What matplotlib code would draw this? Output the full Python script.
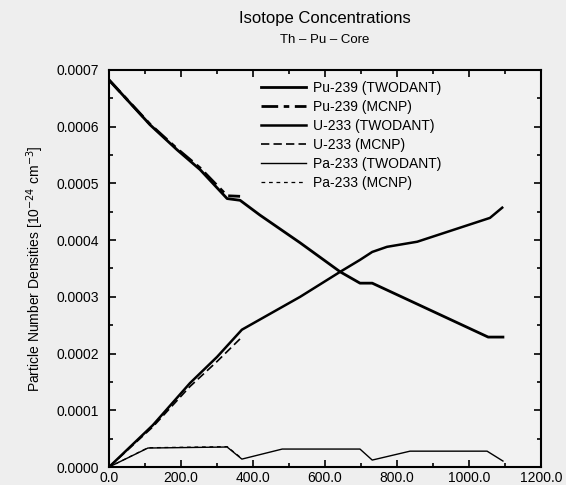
import matplotlib.pyplot as plt
from matplotlib.ticker import MultipleLocator, FormatStrFormatter

plt.rcParams['font.family'] = ['Liberation Sans', 'DejaVu Sans']

# burnup time (days) and number densities
pu_twodant_t = [0, 114, 189, 253, 328, 364, 419, 531, 642, 697, 731, 1053, 1094]
pu_twodant_n = [0.000682, 0.000603, 0.000559, 0.000524, 0.000473, 0.000470, 0.000444,
                0.000395, 0.000344, 0.000324, 0.000324, 0.000229, 0.000229]
pu_mcnp_t = [0, 114, 189, 253, 328, 364]
pu_mcnp_n = [0.000682, 0.000604, 0.000561, 0.000527, 0.000478, 0.000477]

u_twodant_t = [0, 122, 225, 300, 369, 531, 642, 697, 731, 772, 856, 1058, 1092]
u_twodant_n = [0.0, 0.000074, 0.000148, 0.000194, 0.000242, 0.000300, 0.000344,
               0.000365, 0.000379, 0.000388, 0.000397, 0.000439, 0.000457]
u_mcnp_t = [0, 122, 225, 300, 369]
u_mcnp_n = [0.0, 0.000071, 0.000142, 0.000186, 0.000229]

pa_twodant_t = [0, 108, 328, 369, 481, 697, 731, 836, 1050, 1094]
pa_twodant_n = [0.0, 0.0000335, 0.0000353, 0.000014, 0.0000317, 0.0000317,
                0.0000123, 0.000028, 0.000028, 0.0000106]
pa_mcnp_t = [0, 108, 328, 369]
pa_mcnp_n = [0.0, 0.000034, 0.000036, 0.000015]

fig = plt.figure(figsize=(5.66, 4.851), dpi=100)
fig.patch.set_facecolor('#eeeeee')
ax = fig.add_axes([0.1926, 0.037, 0.7634, 0.819])
ax.set_facecolor('#f2f2f2')

ax.plot(pu_twodant_t, pu_twodant_n, color='black', lw=2.0, label='Pu-239 (TWODANT)')
ax.plot(pu_mcnp_t, pu_mcnp_n, color='black', lw=2.0, ls=(0, (6, 2, 2, 2)), label='Pu-239 (MCNP)')
ax.plot(u_twodant_t, u_twodant_n, color='black', lw=1.8, label='U-233 (TWODANT)')
ax.plot(u_mcnp_t, u_mcnp_n, color='black', lw=1.2, ls=(0, (5, 2.5)), label='U-233 (MCNP)')
ax.plot(pa_twodant_t, pa_twodant_n, color='black', lw=1.0, label='Pa-233 (TWODANT)')
ax.plot(pa_mcnp_t, pa_mcnp_n, color='black', lw=0.9, ls=(0, (3, 3)), label='Pa-233 (MCNP)')

ax.set_xlim(0, 1200)
ax.set_ylim(0, 0.0007)
ax.xaxis.set_major_locator(MultipleLocator(200))
ax.xaxis.set_minor_locator(MultipleLocator(100))
ax.yaxis.set_major_locator(MultipleLocator(0.0001))
ax.yaxis.set_minor_locator(MultipleLocator(0.00005))
ax.xaxis.set_major_formatter(FormatStrFormatter('%.1f'))
ax.yaxis.set_major_formatter(FormatStrFormatter('%.4f'))
ax.tick_params(which='both', direction='in', top=True, right=True, labelsize=10, width=1.2)
ax.tick_params(which='major', length=5)
ax.tick_params(axis='y', which='major', pad=7)
ax.tick_params(axis='x', which='major', pad=2.5)
ax.tick_params(which='minor', length=3)
for s in ax.spines.values():
    s.set_linewidth(1.5)

ax.set_ylabel('Particle Number Densities [10$^{-24}$ cm$^{-3}$]', fontsize=10, labelpad=8)

fig.text(0.574, 0.962, 'Isotope Concentrations', ha='center', va='center', fontsize=12)
fig.text(0.574, 0.917, 'Th – Pu – Core', ha='center', va='center', fontsize=9.5)

ax.legend(loc='upper left', bbox_to_anchor=(0.34, 0.985), frameon=False, fontsize=10,
          handlelength=3.2, labelspacing=0.35, handletextpad=0.5, borderaxespad=0)

fig.savefig('out.png', dpi=100, facecolor=fig.get_facecolor())
